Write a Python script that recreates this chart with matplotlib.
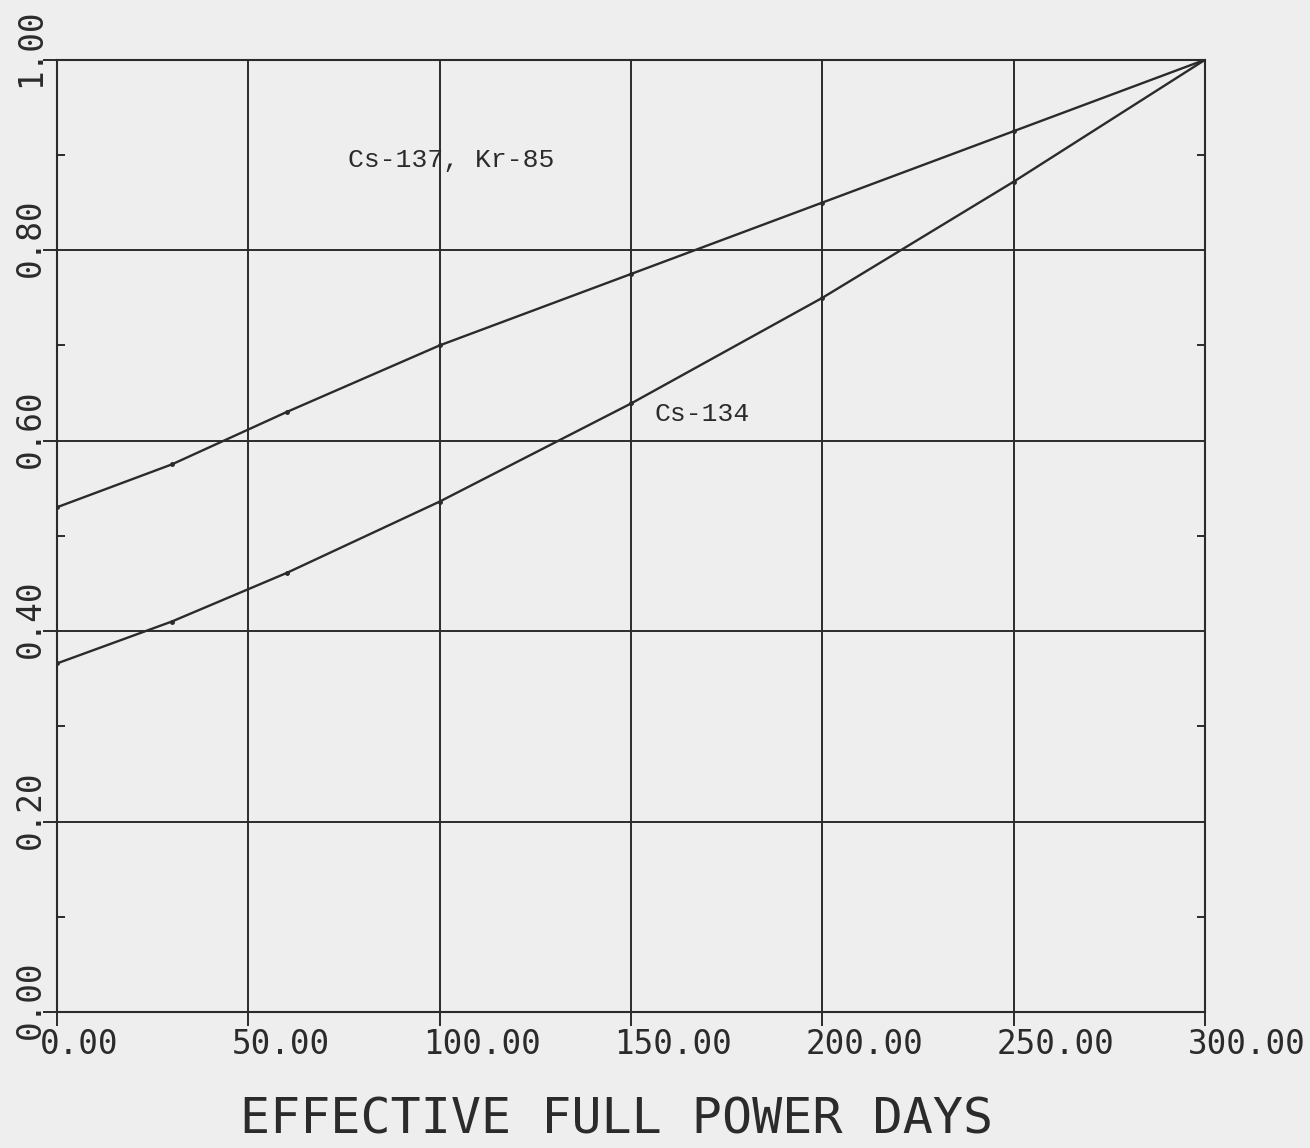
import matplotlib
matplotlib.use("Agg")
import matplotlib.pyplot as plt
from matplotlib.transforms import ScaledTranslation

# Data
days = [0, 30, 60, 100, 150, 200, 250, 300]
cs137_kr85 = [0.53, 0.575, 0.63, 0.70, 0.775, 0.85, 0.925, 1.00]
cs134 = [0.366, 0.41, 0.461, 0.536, 0.639, 0.75, 0.872, 1.00]

x_ticks = [0, 50, 100, 150, 200, 250, 300]
x_tick_labels = ["0.00", "50.00", "100.00", "150.00", "200.00", "250.00", "300.00"]
y_ticks = [0.0, 0.2, 0.4, 0.6, 0.8, 1.0]
y_tick_labels = ["0.00", "0.20", "0.40", "0.60", "0.80", "1.00"]
y_minor = [0.1, 0.3, 0.5, 0.7, 0.9]

ink = "#2b2b2b"
bg = "#eeeeee"

fig = plt.figure(figsize=(13.10, 11.48), dpi=100, facecolor=bg)
ax = fig.add_axes([0.0435, 0.1185, 0.8765, 0.8295], facecolor=bg)

ax.set_xlim(0, 300)
ax.set_ylim(0, 1.0)

ax.plot(days, cs137_kr85, color=ink, lw=1.7, marker="o", ms=2.5, zorder=3)
ax.plot(days, cs134, color=ink, lw=1.7, marker="o", ms=2.5, zorder=3)

ax.set_xticks(x_ticks)
ax.set_yticks(y_ticks)
ax.set_yticks(y_minor, minor=True)
ax.grid(True, which="major", color=ink, lw=1.4)
for s in ax.spines.values():
    s.set_color(ink)
    s.set_linewidth(1.5)

ax.tick_params(axis="both", which="major", direction="out", length=10, width=1.4,
               color=ink, labelbottom=False, labelleft=False)
ax.tick_params(axis="y", which="minor", direction="in", length=6, width=1.4,
               color=ink, left=True, right=True)

mono = "DejaVu Sans Mono"
xt = ax.get_xaxis_transform()
off_x = ScaledTranslation(-17 / 100, -16 / 100, fig.dpi_scale_trans)
for v, lab in zip(x_ticks, x_tick_labels):
    ax.text(v, 0, lab, transform=xt + off_x, ha="left", va="top",
            fontsize=23.5, family=mono, color=ink)

yt = ax.get_yaxis_transform()
off_y = ScaledTranslation(-10 / 100, 12 / 100, fig.dpi_scale_trans)
for v, lab in zip(y_ticks, y_tick_labels):
    ax.text(0, v, lab, transform=yt + off_y, ha="right", va="center",
            rotation=90, fontsize=23.5, family=mono, color=ink)

ax.text(0.471, 0.004, "EFFECTIVE FULL POWER DAYS", transform=fig.transFigure,
        ha="center", va="bottom", fontsize=36, family=mono, color=ink)

ax.text(76, 0.895, "Cs-137, Kr-85", ha="left", va="center",
        fontsize=19, family="Liberation Mono", color=ink)
ax.text(156, 0.628, "Cs-134", ha="left", va="center",
        fontsize=19, family="Liberation Mono", color=ink)

fig.savefig("out.png", dpi=100, facecolor=bg)
